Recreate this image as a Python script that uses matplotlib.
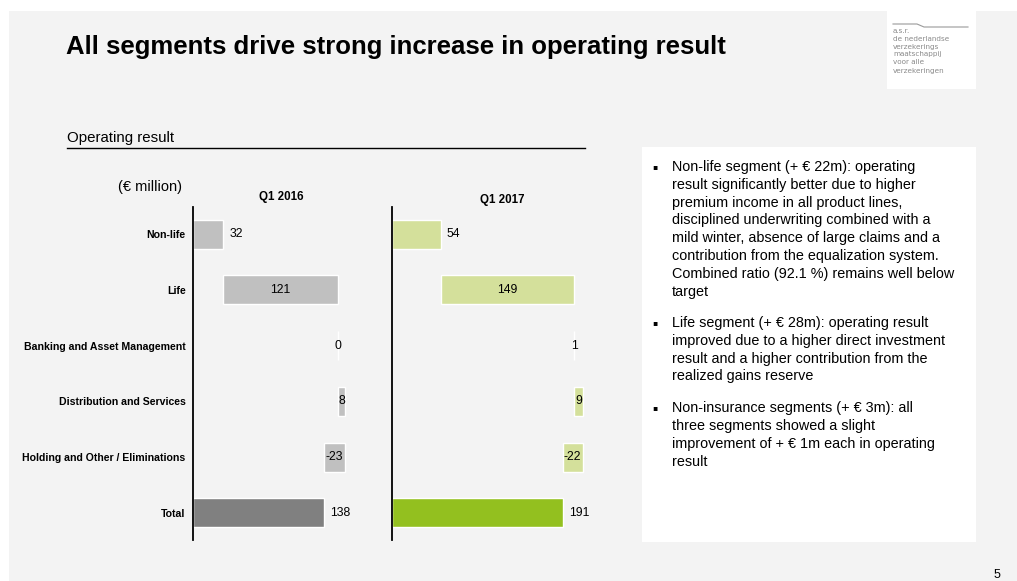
import matplotlib
matplotlib.use("Agg")
import matplotlib.pyplot as plt
from matplotlib.patches import Rectangle
from matplotlib.lines import Line2D
import numpy as np

# ---------------- data ----------------
categories = ["Non-life", "Life", "Banking and Asset Management",
              "Distribution and Services", "Holding and Other / Eliminations", "Total"]
values_2016 = [32, 121, 0, 8, -23, 138]
values_2017 = [54, 149, 1, 9, -22, 191]
period_labels = ["Q1 2016", "Q1 2017"]

colors_2016 = ("#c0c0c0", "#808080")
colors_2017 = ("#d4e09b", "#93c01f")

title = "All segments drive strong increase in operating result"
subtitle = "Operating result"
unit_label = "(€ million)"

bullets = [
    ["Non-life segment (+ € 22m): operating",
     "result significantly better due to higher",
     "premium income in all product lines,",
     "disciplined underwriting combined with a",
     "mild winter, absence of large claims and a",
     "contribution from the equalization system.",
     "Combined ratio (92.1 %) remains well below",
     "target"],
    ["Life segment (+ € 28m): operating result",
     "improved due to a higher direct investment",
     "result and a higher contribution from the",
     "realized gains reserve"],
    ["Non-insurance segments (+ € 3m): all",
     "three segments showed a slight",
     "improvement of + € 1m each in operating",
     "result"],
]
logo_lines = ["a.s.r.", "de nederlandse", "verzekerings", "maatschappij", "voor alle", "verzekeringen"]

# ---------------- figure ----------------
W, H = 1017, 581
fig = plt.figure(figsize=(W / 100, H / 100), dpi=100, facecolor="white")
plt.rcParams["font.family"] = ["Liberation Sans", "DejaVu Sans"]


def fx(x):
    return x / W


def fy(y):
    return 1 - y / H


def rect(x0, y0, x1, y1, color):
    fig.patches.append(Rectangle((fx(x0), fy(y1)), fx(x1) - fx(x0), fy(y0) - fy(y1),
                                 transform=fig.transFigure, facecolor=color,
                                 edgecolor="none", zorder=-10))


# page background
rect(9, 11, W, H, "#f3f3f3")
# logo box
rect(887, 0, 976, 89, "#ffffff")
# text box
rect(642, 147, 976, 542, "#ffffff")

# title
fig.text(fx(66), fy(47), title, fontsize=18.5, fontweight="bold", va="center", ha="left",
         color="black")

# subtitle with rule
fig.text(fx(67), fy(138), subtitle, fontsize=10.8, va="center", ha="left")
fig.lines.append(Line2D([fx(67), fx(585)], [fy(148), fy(148)], transform=fig.transFigure,
                        color="black", lw=1.0))
fig.text(fx(118), fy(187), unit_label, fontsize=10.5, va="center", ha="left")

# logo
fig.lines.append(Line2D([fx(893), fx(917), fx(924), fx(968)], [fy(24), fy(24), fy(27), fy(27)],
                        transform=fig.transFigure, color="#9a9a9a", lw=0.8))
logo_y = [31, 39, 46.7, 54.3, 62.5, 71]
for t, yy in zip(logo_lines, logo_y):
    fig.text(fx(893), fy(yy), t, fontsize=5.2, color="#8a8a8a", va="center", ha="left",
             family="DejaVu Sans")

# page number
fig.text(fx(997), fy(575), "5", fontsize=9, va="center", ha="center")

# ---------------- waterfall panels ----------------
ax_top, ax_bot = 207, 540
panels = [
    (192.5, 0.950, values_2016, colors_2016, period_labels[0], 281, 197),
    (392.3, 0.893, values_2017, colors_2017, period_labels[1], 502, 200),
]
ypos = np.arange(len(categories))
width_px = 200

for i, (x0, scale, vals, cols, plab, hx, hy) in enumerate(panels):
    ax = fig.add_axes([fx(x0), fy(ax_bot), width_px / W, (ax_bot - ax_top) / H])
    ax.set_facecolor("none")
    ax.set_xlim(0, width_px / scale)
    ax.set_ylim(len(categories) - 0.51, -0.49)
    for s in ["top", "right", "bottom"]:
        ax.spines[s].set_visible(False)
    ax.spines["left"].set_color("black")
    ax.spines["left"].set_linewidth(1.3)
    ax.set_xticks([])
    ax.set_yticks(ypos)
    if i == 0:
        ax.set_yticklabels(categories, fontsize=7.6, fontweight="bold")
        ax.tick_params(axis="y", length=0, pad=5)
    else:
        ax.set_yticklabels([])
        ax.tick_params(axis="y", length=0)

    seg = vals[:-1]
    cum = np.concatenate([[0], np.cumsum(seg)])
    starts = list(cum[:-1]) + [0]
    widths = list(seg) + [vals[-1]]
    face = [cols[0]] * len(seg) + [cols[1]]
    ax.barh(ypos, widths, left=starts, height=0.52, color=face, edgecolor="white",
            linewidth=1.0, zorder=2)

    for k, (s, w, v) in enumerate(zip(starts, widths, vals)):
        end = s + w
        if k == 0 or k == len(vals) - 1:
            ax.annotate(f"{v}", xy=(end, k), xytext=(4.5, 0), textcoords="offset points",
                        ha="left", va="center", fontsize=8.8, zorder=3)
        else:
            ax.text(s + w / 2, k, f"{v}", ha="center", va="center", fontsize=8.8, zorder=3)

    fig.text(fx(hx), fy(hy), plab, fontsize=8.3, fontweight="bold", ha="center", va="center")

# ---------------- bullet text ----------------
para_start = [166.7, 322.7, 408]
line_gap = 17.9
for para, y0 in zip(bullets, para_start):
    fig.text(fx(655), fy(y0), "▪", fontsize=5.5, va="center", ha="center",
             family="DejaVu Sans")
    for j, line in enumerate(para):
        fig.text(fx(672), fy(y0 + j * line_gap), line, fontsize=10.4, va="center", ha="left")

fig.savefig("out.png", dpi=100, facecolor=fig.get_facecolor())
